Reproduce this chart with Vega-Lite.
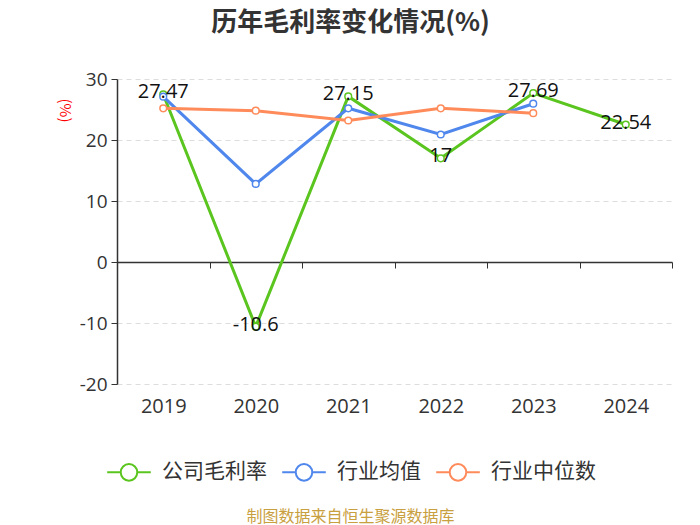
{
  "$schema": "https://vega.github.io/schema/vega-lite/v6.json",
  "width": 555,
  "height": 305,
  "autosize": {"type": "none"},
  "padding": {"left": 117, "top": 79, "right": 28, "bottom": 141},
  "background": "white",
  "title": {"text": "历年毛利率变化情况(%)", "fontSize": 26, "fontWeight": "bold", "color": "#333333", "font": "Noto Sans CJK SC", "anchor": "middle", "dx": -44, "offset": 34},
  "config": {"font": "Noto Sans CJK SC", "view": {"stroke": null}},
  "data": {"values": [
    {"year": "2019", "series": "公司毛利率", "value": 27.47},
    {"year": "2020", "series": "公司毛利率", "value": -10.6},
    {"year": "2021", "series": "公司毛利率", "value": 27.15},
    {"year": "2022", "series": "公司毛利率", "value": 17},
    {"year": "2023", "series": "公司毛利率", "value": 27.69},
    {"year": "2024", "series": "公司毛利率", "value": 22.54},
    {"year": "2019", "series": "行业均值", "value": 27.1},
    {"year": "2020", "series": "行业均值", "value": 12.8},
    {"year": "2021", "series": "行业均值", "value": 25.2},
    {"year": "2022", "series": "行业均值", "value": 20.9},
    {"year": "2023", "series": "行业均值", "value": 25.95},
    {"year": "2019", "series": "行业中位数", "value": 25.2},
    {"year": "2020", "series": "行业中位数", "value": 24.8},
    {"year": "2021", "series": "行业中位数", "value": 23.2},
    {"year": "2022", "series": "行业中位数", "value": 25.2},
    {"year": "2023", "series": "行业中位数", "value": 24.4}
  ]},
  "layer": [
    {
      "mark": {"type": "line", "strokeWidth": 3, "point": {"filled": false, "fill": "white", "size": 45, "strokeWidth": 1.5}},
      "encoding": {
        "x": {"field": "year", "type": "ordinal", "scale": {"type": "band", "paddingInner": 0, "paddingOuter": 0},
          "axis": {"orient": "bottom", "offset": -122, "domain": true, "domainColor": "#333333", "domainWidth": 1.5, "ticks": true, "tickColor": "#333333", "tickSize": 6, "tickBand": "extent", "grid": false, "labelAngle": 0, "labelFont": "Open Sans", "labelFontSize": 20, "labelColor": "#333333", "labelPadding": 128,
            "title": "制图数据来自恒生聚源数据库", "titleColor": "#c9a040", "titleFontSize": 16, "titleFontWeight": "normal", "titleX": 233, "titleY": 254, "titleAnchor": null, "titleAlign": "center", "titleBaseline": "middle"}},
        "y": {"field": "value", "type": "quantitative",
          "scale": {"domain": [-20, 30], "nice": false, "zero": false},
          "axis": {"values": [-20, -10, 0, 10, 20, 30], "labelExpr": "'' + datum.value", "grid": true, "gridColor": "#dddddd", "gridDash": [5, 4], "gridWidth": 1, "domainColor": "#333333", "domainWidth": 1.5, "tickColor": "#333333", "tickSize": 6, "labelFont": "Open Sans", "labelFontSize": 19, "labelColor": "#333333", "labelPadding": 4,
            "title": "(%)", "titleColor": "red", "titleFontSize": 15, "titleFontWeight": "normal", "titleAngle": 90, "titleX": -53, "titleY": 31, "titleAlign": "center", "titleBaseline": "middle"}},
        "color": {"field": "series", "type": "nominal",
          "scale": {"domain": ["公司毛利率", "行业均值", "行业中位数"], "range": ["#5bc51f", "#4f87ec", "#ff8b5a"]},
          "legend": {"title": null, "orient": "none", "direction": "horizontal", "legendX": -11, "legendY": 370,
            "symbolType": "M-1,0L-0.38,0M0.38,0L1,0M0.38,0A0.38,0.38 0 1 1 -0.38,0A0.38,0.38 0 1 1 0.38,0",
            "symbolSize": 1900, "symbolStrokeWidth": 2, "labelFontSize": 21, "labelColor": "#333333", "labelOffset": 10, "columnPadding": 11,
            "encode": {"symbols": {"update": {"fill": {"value": "white"}, "fillOpacity": {"value": 1}}}}}}
      }
    },
    {
      "transform": [{"filter": "datum.series === '公司毛利率'"}],
      "mark": {"type": "text", "font": "Open Sans", "fontSize": 20, "color": "#111111", "dy": -2, "baseline": "middle", "align": "center"},
      "encoding": {
        "x": {"field": "year", "type": "ordinal"},
        "y": {"field": "value", "type": "quantitative"},
        "text": {"field": "value", "type": "nominal"}
      }
    }
  ]
}
